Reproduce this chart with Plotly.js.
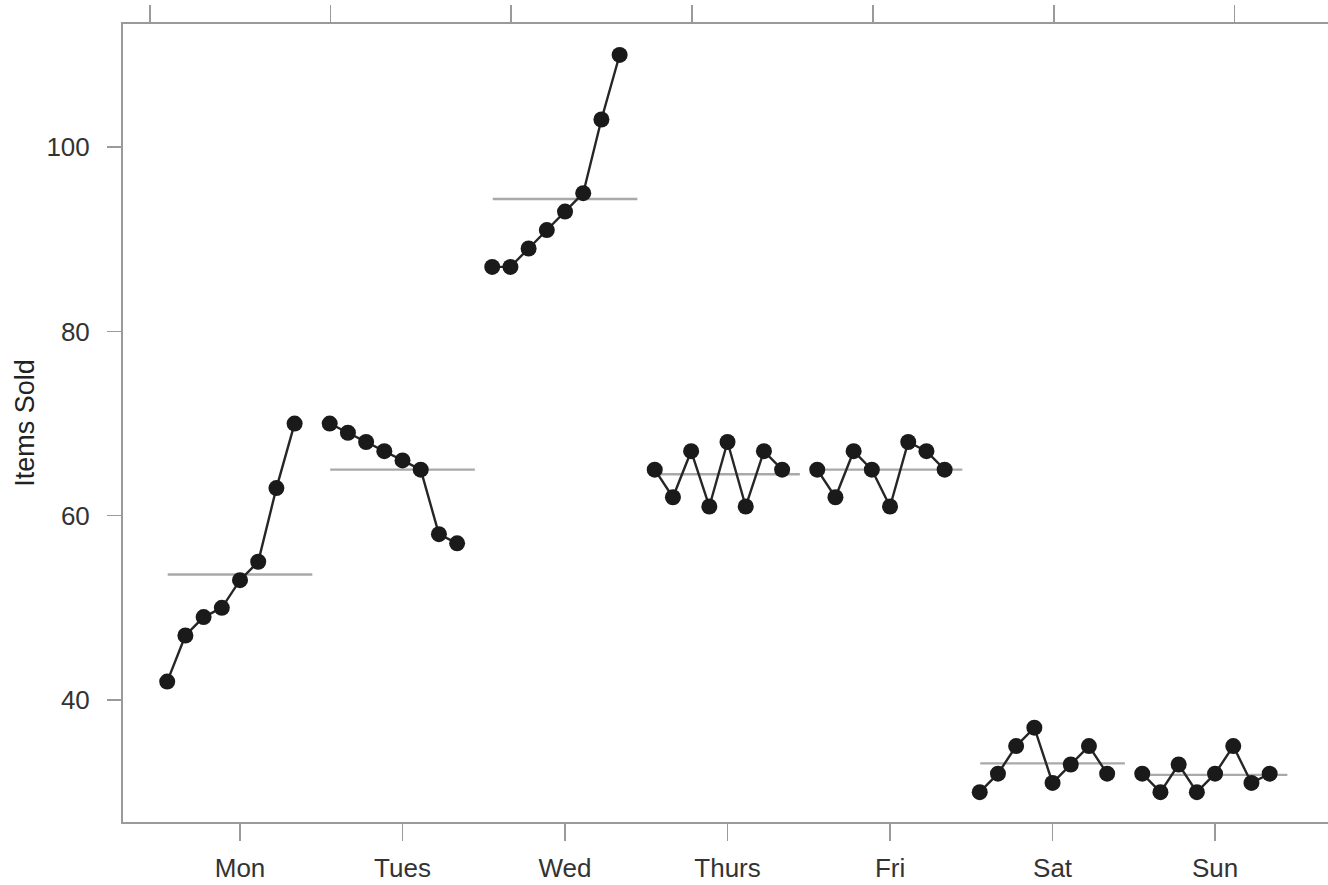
<!DOCTYPE html>
<html>
<head>
<meta charset="utf-8">
<script src="https://cdn.plot.ly/plotly-3.0.1.min.js"></script>
<style>
  html, body { margin: 0; padding: 0; background: #ffffff; overflow: hidden; }
  #chart { width: 1328px; height: 885px; }
</style>
</head>
<body>
<div id="chart"></div>
<script>
// ---- data ----
const days = ["Mon", "Tues", "Wed", "Thurs", "Fri", "Sat", "Sun"];
const mon   = [42, 47, 49, 50, 53, 55, 63, 70];
const tues  = [70, 69, 68, 67, 66, 65, 58, 57];
const wed   = [87, 87, 89, 91, 93, 95, 103, 110];
const thurs = [65, 62, 67, 61, 68, 61, 67, 65];
const fri   = [65, 62, 67, 65, 61, 68, 67, 65];
const sat   = [30, 32, 35, 37, 31, 33, 35, 32];
const sun   = [32, 30, 33, 30, 32, 35, 31, 32];
const yTicks = [40, 60, 80, 100];
const topTicks = [0.446, 1.556, 2.668, 3.782, 4.895, 6.009, 7.12];

const series = [mon, tues, wed, thurs, fri, sat, sun];
const dayPos = days.map((d, i) => i + 1);

// within-day spread of the points (cycle plot layout)
const step = 0.112;
const centerIdx = 4;
const halfMean = 0.445;

const traces = [];
series.forEach((vals, i) => {
  const xs = vals.map((v, k) => dayPos[i] + (k - centerIdx) * step);
  const mean = vals.reduce((a, b) => a + b, 0) / vals.length;
  traces.push({
    type: "scatter", mode: "lines",
    x: [dayPos[i] - halfMean, dayPos[i] + halfMean],
    y: [mean, mean],
    line: { color: "#a9a9a9", width: 2.4 },
    hoverinfo: "skip", showlegend: false
  });
  traces.push({
    type: "scatter", mode: "lines+markers",
    x: xs, y: vals, name: days[i],
    line: { color: "#262626", width: 2.4 },
    marker: { color: "#1a1a1a", size: 16 },
    showlegend: false
  });
});
// empty trace so the top axis is drawn
traces.push({ type: "scatter", x: [], y: [], xaxis: "x2", yaxis: "y", showlegend: false, hoverinfo: "skip" });

const axisGray = "#9a9a9a";
const tickFont = { family: "Liberation Sans, Arial, sans-serif", size: 26, color: "#333333" };

const layout = {
  width: 1328, height: 885,
  margin: { l: 123, r: 0, t: 24, b: 63 },
  paper_bgcolor: "#ffffff", plot_bgcolor: "#ffffff",
  showlegend: false,
  xaxis: {
    range: [0.28, 7.695],
    tickmode: "array", tickvals: dayPos, ticktext: days,
    ticks: "outside", ticklen: 17, tickwidth: 1.5, tickcolor: axisGray,
    ticklabelstandoff: 5,
    showline: true, linecolor: axisGray, linewidth: 2,
    showgrid: false, zeroline: false,
    tickfont: tickFont, fixedrange: true
  },
  xaxis2: {
    overlaying: "x", side: "top", anchor: "y",
    range: [0.28, 7.695],
    tickmode: "array", tickvals: topTicks,
    showticklabels: false,
    ticks: "outside", ticklen: 17, tickwidth: 1.5, tickcolor: axisGray,
    showline: true, linecolor: axisGray, linewidth: 2,
    showgrid: false, zeroline: false, fixedrange: true
  },
  yaxis: {
    range: [26.76, 113.36],
    tickmode: "array", tickvals: yTicks,
    ticks: "outside", ticklen: 14, tickwidth: 1.5, tickcolor: axisGray,
    ticklabelstandoff: 12,
    showline: true, linecolor: axisGray, linewidth: 2,
    showgrid: false, zeroline: false,
    tickfont: tickFont, fixedrange: true,
    title: { text: "Items Sold", font: { family: "Liberation Sans, Arial, sans-serif", size: 27, color: "#222222" }, standoff: 4 }
  }
};

Plotly.newPlot("chart", traces, layout, { displayModeBar: false, staticPlot: true });
</script>
</body>
</html>
